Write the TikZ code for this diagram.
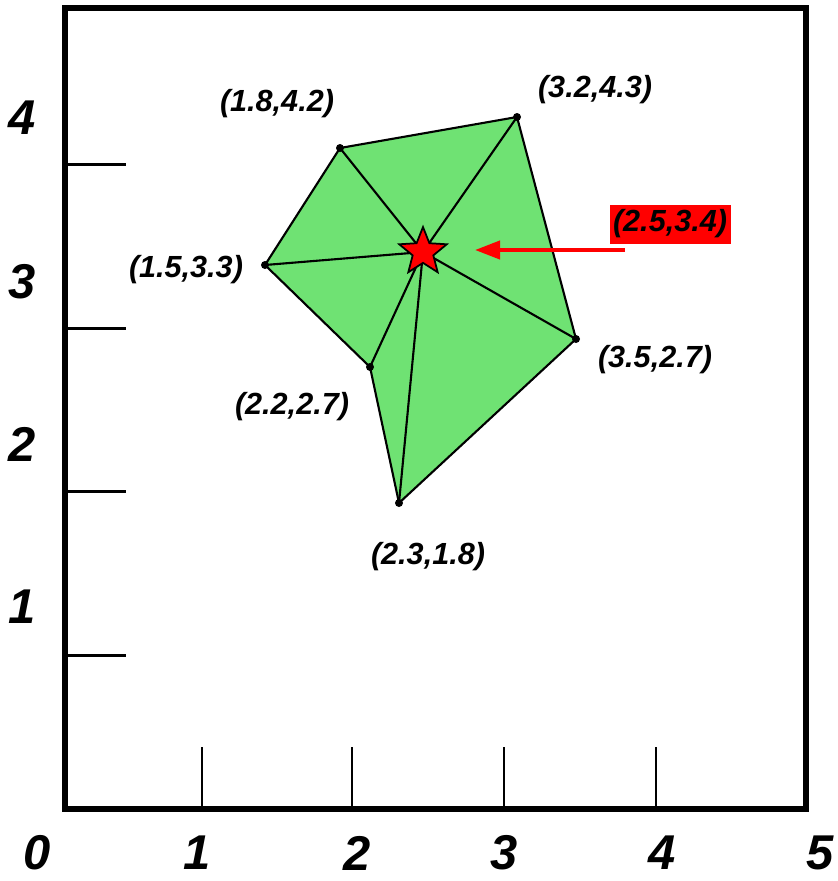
\documentclass[tikz,border=0pt]{standalone}
\usepackage{fontspec}
\setmainfont{Liberation Sans}
\usepackage{tikz}
\usetikzlibrary{shapes.geometric, arrows.meta}
\definecolor{hullgreen}{HTML}{6FE273}
\definecolor{hot}{HTML}{FF0000}

\begin{document}
\begin{tikzpicture}[
    x=0.2mm, y=-0.2mm,
    every node/.style={font=\fontsize{17.4}{19}\selectfont\bfseries\itshape},
    axisnum/.style={font=\fontsize{27.8}{30}\selectfont\bfseries\itshape,
                    inner sep=0pt},
    frame/.style={line width=3.4pt},
    ticmark/.style={line width=1.7pt},
    edge/.style={line width=1.2pt, line join=round},
    tag/.style={fill=hot, minimum width=24.2mm, minimum height=7.8mm,
                inner sep=0pt},
    pointer/.style={-{Triangle[length=5mm, width=3.6mm]}, line width=2.3pt,
                    draw=hot},
    target/.style={star, star points=5, star point ratio=2.3,
                   minimum size=10mm, inner sep=0pt, fill=hot, draw=black,
                   line width=1pt}
]
\useasboundingbox (0,0) rectangle (838,881);

% Frame and ticks
\draw[frame] (65,8) rectangle (806,809);
\foreach \x in {202,352,504,656}
    \draw[ticmark] (\x,747) -- (\x,809);
\foreach \y in {164,328,491,655}
    \draw[ticmark] (65,\y) -- (126,\y);

% Axis numbers
\node[axisnum] (x0) at (37,853) {0};
\node[axisnum] (x1) at (197,853) {1};
\node[axisnum] (x2) at (357,853) {2};
\node[axisnum] (x3) at (504,853) {3};
\node[axisnum] (x4) at (662,853) {4};
\node[axisnum] (x5) at (820,853) {5};
\node[axisnum] (y4) at (22,118) {4};
\node[axisnum] (y3) at (22,282) {3};
\node[axisnum] (y2) at (22,444) {2};
\node[axisnum] (y1) at (22,607) {1};

% Points of the hull
\coordinate (pa) at (340,148);
\coordinate (pb) at (517,117);
\coordinate (pc) at (576,339);
\coordinate (pd) at (399,503);
\coordinate (pe) at (370,367);
\coordinate (pf) at (265,265);
\coordinate (hub) at (423,252);

% Fan of triangles
\fill[hullgreen] (pa) -- (pb) -- (pc) -- (pd) -- (pe) -- (pf) -- cycle;
\draw[edge] (pa) -- (pb) -- (pc) -- (pd) -- (pe) -- (pf) -- cycle;
\foreach \p in {pa,pb,pc,pd,pe,pf}
    \draw[edge] (hub) -- (\p);
\foreach \p in {pa,pb,pc,pd,pe,pf}
    \fill (\p) circle[radius=0.8mm];

% Labels
\node (la) at (277,104) {(1.8,4.2)};
\node (lb) at (595,90) {(3.2,4.3)};
\node (lc) at (655,360) {(3.5,2.7)};
\node (ld) at (428,557) {(2.3,1.8)};
\node (le) at (292,407) {(2.2,2.7)};
\node (lf) at (186,270) {(1.5,3.3)};

% Query point
\node[target] (query) at (hub) {};
\node[tag] (qlabel) at (670,224) {(2.5,3.4)};
\coordinate (tail) at (625,250);
\coordinate (tip) at (475,250);
\draw[pointer] (tail) -- (tip);

\end{tikzpicture}
\end{document}
